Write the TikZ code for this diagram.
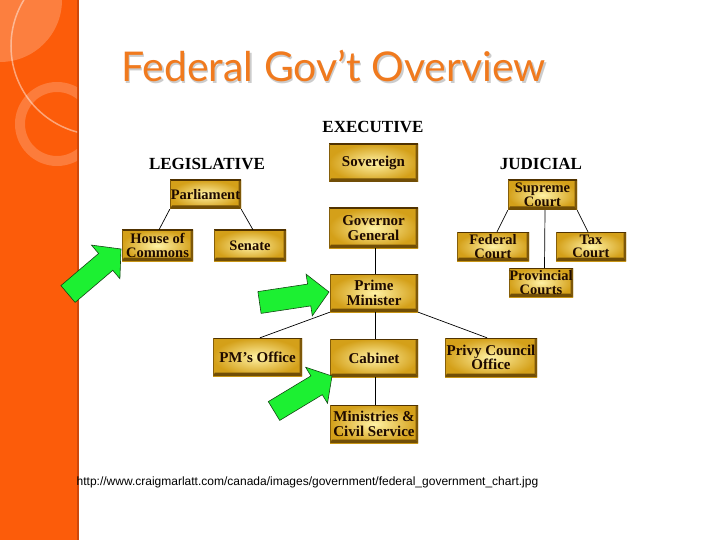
\documentclass[tikz,border=0pt]{standalone}
\usepackage{fontspec}
\setmainfont{Liberation Serif}
\newfontfamily\titlefont{Lato}
\newfontfamily\urlfont{Liberation Sans}
\definecolor{barorange}{RGB}{252,92,10}
\definecolor{baredge}{RGB}{205,72,12}
\definecolor{titleorange}{RGB}{240,122,30}
\definecolor{goldlight}{RGB}{255,242,165}
\definecolor{golddark}{RGB}{212,160,25}
\definecolor{bevel}{RGB}{80,50,0}
\definecolor{boxtext}{RGB}{30,10,0}
\definecolor{arrowgreen}{RGB}{28,240,50}
\definecolor{arrowedge}{RGB}{20,70,20}
\begin{document}
\begin{tikzpicture}[x=1pt,y=-1pt,
  gold/.style={shade, shading=radial, inner color=goldlight, outer color=golddark,
    inner sep=0pt, align=center, font=\fontsize{15}{14.5}\selectfont\bfseries, text=boxtext,
    path picture={
      \fill[bevel!75!golddark] (path picture bounding box.south west) -- (path picture bounding box.south east)
        -- ([shift={(-2.5pt,3.5pt)}]path picture bounding box.south east)
        -- ([shift={(2pt,3.5pt)}]path picture bounding box.south west) -- cycle;
      \fill[bevel!65!golddark] (path picture bounding box.south east) -- (path picture bounding box.north east)
        -- ([shift={(-2.5pt,-1.5pt)}]path picture bounding box.north east)
        -- ([shift={(-2.5pt,3.5pt)}]path picture bounding box.south east) -- cycle;
      \draw[bevel, line width=1.2pt] (path picture bounding box.north west) -- (path picture bounding box.north east);
      \draw[bevel!60!golddark, line width=1pt] (path picture bounding box.north west) -- (path picture bounding box.south west);
    }},
  smallgold/.style={gold, font=\fontsize{14.5}{13.5}\selectfont\bfseries},
  heading/.style={font=\fontsize{17}{17}\selectfont\bfseries, text=black, inner sep=0pt},
  conn/.style={draw=black, line width=0.7pt},
  greenarrow/.style={fill=arrowgreen, draw=arrowedge, line width=0.6pt, line join=miter}
]
\useasboundingbox (0,0) rectangle (720,540);
\fill[white] (0,0) rectangle (720,540);
% side bar
\fill[barorange] (0,0) rectangle (78,540);
\fill[baredge] (77,0) rectangle (79,540);
\begin{scope}
  \clip (0,0) rectangle (77,540);
  \fill[white, opacity=0.22] (0,0) circle[radius=62pt];
  \draw[white, opacity=0.45, line width=1.5pt] (100,46) circle[radius=89pt];
  \draw[white, opacity=0.2, line width=10pt] (57,124) circle[radius=37pt];
\end{scope}
% title
\node[anchor=base west, inner sep=0pt, text=black!20, font=\titlefont\fontsize{41}{41}\selectfont] at (122.5,83.5) {Federal Gov’t Overview};
\node[anchor=base west, inner sep=0pt, text=titleorange, font=\titlefont\fontsize{41}{41}\selectfont] (title) at (121,82) {Federal Gov’t Overview};
% headings
\node[heading] (hexe) at (373,127) {EXECUTIVE};
\node[heading] (hleg) at (207,164) {LEGISLATIVE};
\node[heading] (hjud) at (541,164) {JUDICIAL};
% executive column
\node[gold, minimum width=89pt, minimum height=38pt] (sov) at (373.5,163) {Sovereign};
\node[gold, minimum width=89pt, minimum height=40pt] (gg) at (373.5,228) {Governor\\General};
\node[gold, minimum width=88pt, minimum height=38pt] (pm) at (374,293) {Prime\\Minister};
\node[gold, minimum width=88pt, minimum height=38pt] (cab) at (374,358) {Cabinet};
\node[gold, minimum width=88pt, minimum height=38pt] (min) at (374,424) {Ministries \&\\Civil Service};
\node[gold, minimum width=89pt, minimum height=38pt] (pmo) at (257.5,357) {PM’s Office};
\node[gold, minimum width=92pt, minimum height=39pt] (pco) at (491,357.5) {Privy Council\\Office};
% legislative
\node[smallgold, minimum width=71pt, minimum height=29pt] (parl) at (205.5,194.5) {Parliament};
\node[smallgold, minimum width=71pt, minimum height=31pt] (hoc) at (157.5,245.5) {House of\\Commons};
\node[smallgold, minimum width=72pt, minimum height=31pt] (sen) at (250,245.5) {Senate};
% judicial
\node[smallgold, minimum width=69pt, minimum height=30pt] (sup) at (542.5,195) {Supreme\\Court};
\node[smallgold, minimum width=72pt, minimum height=29pt] (fed) at (493,246.5) {Federal\\Court};
\node[smallgold, minimum width=70pt, minimum height=29pt] (tax) at (591,246.5) {Tax\\Court};
\node[smallgold, minimum width=64pt, minimum height=29pt] (prov) at (541,282.5) {Provincial\\Courts};
% connectors
\draw[conn] (parl.south west) -- ([xshift=1.5pt]hoc.north);
\draw[conn] (parl.south east) -- ([xshift=3pt]sen.north);
\draw[conn] ([xshift=1.5pt]gg.south) -- ([xshift=1pt]pm.north);
\draw[conn] (pm.south west) -- ([xshift=2.5pt]pmo.north);
\draw[conn] (pm.south east) -- ([xshift=-4pt]pco.north);
\draw[conn] ([xshift=1pt]pm.south) -- ([xshift=1pt]cab.north);
\draw[conn] ([xshift=1pt]cab.south) -- ([xshift=1pt]min.north);
\draw[conn] (sup.south west) -- ([xshift=4pt]fed.north);
\draw[conn] (sup.south east) -- ([xshift=-3pt]tax.north);
\draw[conn] ([xshift=2.5pt]sup.south) -- ([xshift=3.5pt]prov.north);
% url
\node[anchor=base west, inner sep=0pt, font=\urlfont\fontsize{12}{12}\selectfont, text=black] (url) at (76.5,485) {http://www.craigmarlatt.com/canada/images/government/federal\_government\_chart.jpg};
% green arrows
\draw[greenarrow] (75.1,302.4) -- (112.8,270.3) -- (119.9,278.7) -- (121,249) -- (91.5,245.1) -- (98.6,253.5) -- (60.9,285.6) -- cycle;
\draw[greenarrow] (261.1,313.4) -- (310.8,305.9) -- (312.3,315.8) -- (329,292) -- (306.1,274.2) -- (307.6,284.1) -- (257.9,291.6) -- cycle;
\draw[greenarrow] (279.7,420.4) -- (322.3,394.7) -- (327.5,403.3) -- (332,376) -- (305.7,367.3) -- (310.9,375.9) -- (268.3,401.6) -- cycle;
\end{tikzpicture}
\end{document}
